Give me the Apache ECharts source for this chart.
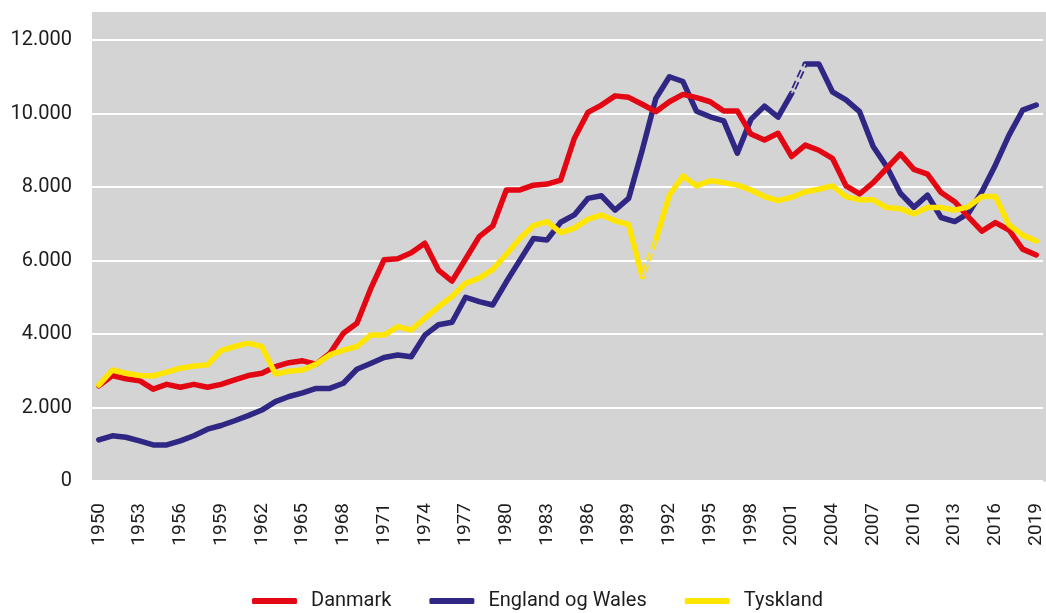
<!DOCTYPE html>
<html>
<head>
    <meta charset="UTF-8">
    <title>Danmark, England og Wales, Tyskland 1950-2019</title>
    <script src="https://cdn.jsdelivr.net/npm/echarts@6/dist/echarts.min.js"></script>
    <style>
        body { margin: 0; background: #fff; }
        #chart { width: 1046px; height: 613px; }
    </style>
</head>
<body>
<div id="chart"></div>
<script type="text/javascript">
    var years = [];
    for (var y = 1950; y <= 2019; y++) years.push(String(y));

    var danmark = [
        2590, 2870, 2780, 2730, 2500, 2630, 2550, 2630, 2550, 2630,
        2750, 2870, 2930, 3110, 3220, 3270, 3180, 3470, 4020, 4290,
        5220, 6020, 6050, 6210, 6470, 5740, 5440, 6040, 6650, 6940,
        7920, 7920, 8050, 8080, 8190, 9320, 10030, 10230, 10480, 10440,
        10250, 10050, 10320, 10520, 10430, 10320, 10070, 10070, 9440, 9280,
        9460, 8830, 9140, 9000, 8780, 8030, 7810, 8120, 8510, 8900,
        8480, 8350, 7850, 7600, 7190, 6800, 7030, 6830, 6310, 6150
    ];
    var englandWales = [
        1120, 1230, 1190, 1090, 980, 980, 1090, 1230, 1410, 1510,
        1640, 1780, 1930, 2160, 2300, 2400, 2520, 2520, 2660, 3040,
        3200, 3360, 3430, 3380, 3970, 4250, 4320, 5000, 4880, 4790,
        5420, 6010, 6600, 6560, 7040, 7240, 7690, 7760, 7370, 7690,
        9000, 10410, 11000, 10870, 10060, 9910, 9800, 8920, 9840, 10200,
        9900, 10550, 11350, 11350, 10590, 10370, 10050, 9100, 8550, 7830,
        7450, 7780, 7170, 7060, 7280, 7870, 8600, 9410, 10090, 10230
    ];
    var tyskland = [
        2610, 3020, 2930, 2870, 2860, 2960, 3070, 3130, 3160, 3550,
        3660, 3750, 3660, 2910, 2990, 3020, 3180, 3430, 3560, 3660,
        3970, 3970, 4200, 4110, 4430, 4740, 5020, 5380, 5520, 5760,
        6170, 6600, 6950, 7060, 6760, 6880, 7120, 7240, 7080, 6980,
        5560, 6560, 7780, 8300, 8030, 8170, 8120, 8050, 7920, 7740,
        7630, 7720, 7870, 7940, 8030, 7740, 7650, 7650, 7440, 7410,
        7270, 7440, 7440, 7370, 7460, 7740, 7740, 6970, 6690, 6530
    ];
    var yTicks = [0, 2000, 4000, 6000, 8000, 10000, 12000];

    // brud i serien: sidste aar foer det stiplede stykke
    var bruddEW = years.indexOf('2001');
    var bruddTy = years.indexOf('1990');

    var red = '#e30613', blue = '#302683', yellow = '#ffe500', bg = '#d4d4d4';
    var font = 'Roboto';

    function before(arr, i) { return arr.map(function (v, k) { return k <= i ? v : null; }); }
    function after(arr, i) { return arr.map(function (v, k) { return k > i ? v : null; }); }
    function gap(arr, i) { return arr.map(function (v, k) { return (k === i || k === i + 1) ? v : null; }); }

    function solid(name, data, color, z) {
        return {
            name: name, type: 'line', data: data, symbol: 'none', z: z,
            connectNulls: false, animation: false,
            itemStyle: { color: color },
            lineStyle: { color: color, width: 5.5, cap: 'round', join: 'round' }
        };
    }
    function dashed(name, data, color, z) {
        return [{
            name: name, type: 'line', data: data, symbol: 'none', z: z, animation: false,
            lineStyle: { color: color, width: 5, type: [8, 4], dashOffset: -5 }
        }, {
            name: name + '_', type: 'line', data: data, symbol: 'none', z: z + 1, animation: false,
            lineStyle: { color: bg, width: 1.5 }
        }];
    }

    var series = [
        solid('Danmark', danmark, red, 3),
        solid('England og Wales', before(englandWales, bruddEW), blue, 2),
        solid('England og Wales', after(englandWales, bruddEW), blue, 2),
        solid('Tyskland', before(tyskland, bruddTy), yellow, 4),
        solid('Tyskland', after(tyskland, bruddTy), yellow, 4)
    ].concat(dashed('England og Wales brud', gap(englandWales, bruddEW), blue, 2))
     .concat(dashed('Tyskland brud', gap(tyskland, bruddTy), yellow, 4));

    var option = {
        animation: false,
        textStyle: { fontFamily: font },
        graphic: [{
            type: 'rect', z: -10, silent: true,
            shape: { x: 92, y: 12, width: 954, height: 469.5 },
            style: { fill: bg }
        }],
        grid: { left: 92, right: 3, top: 40, bottom: 132 },
        legend: {
            data: ['Danmark', 'England og Wales', 'Tyskland'],
            left: 252, top: 591, padding: 0,
            icon: 'roundRect', itemWidth: 45, itemHeight: 6, itemGap: 38,
            textStyle: { fontFamily: font, fontSize: 20, color: '#1d1d1b', padding: [0, 0, 0, 9] }
        },
        xAxis: {
            type: 'category',
            data: years,
            boundaryGap: true,
            axisLine: { show: false },
            axisTick: { show: false },
            axisLabel: {
                interval: 2, rotate: 90, margin: 22,
                fontFamily: font, fontSize: 19, color: '#1d1d1b'
            }
        },
        yAxis: {
            type: 'value',
            min: yTicks[0], max: yTicks[yTicks.length - 1], interval: 2000,
            axisLine: { show: false },
            axisTick: { show: false },
            splitLine: { lineStyle: { color: '#ffffff', width: 2 } },
            axisLabel: {
                margin: 20, fontFamily: font, fontSize: 20, color: '#1d1d1b',
                formatter: function (v) { return String(v).replace(/\B(?=(\d{3})+(?!\d))/g, '.'); }
            }
        },
        series: series
    };
    echarts.init(document.getElementById('chart')).setOption(option);
</script>
</body>
</html>
